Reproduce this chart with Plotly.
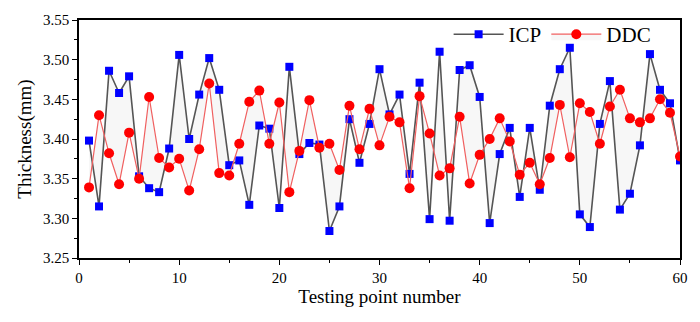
import plotly.graph_objects as go

points = list(range(1, 61))
icp = [3.398, 3.315, 3.486, 3.458, 3.479, 3.353, 3.338, 3.333, 3.388, 3.506,
       3.400, 3.456, 3.502, 3.462, 3.367, 3.373, 3.317, 3.417, 3.413, 3.313,
       3.491, 3.381, 3.395, 3.393, 3.284, 3.315, 3.425, 3.370, 3.419, 3.488,
       3.431, 3.456, 3.356, 3.471, 3.299, 3.510, 3.297, 3.487, 3.493, 3.453,
       3.294, 3.381, 3.414, 3.327, 3.414, 3.336, 3.442, 3.488, 3.515, 3.305,
       3.289, 3.419, 3.473, 3.311, 3.331, 3.392, 3.507, 3.462, 3.445, 3.373]
ddc = [3.339, 3.430, 3.382, 3.343, 3.408, 3.350, 3.453, 3.376, 3.364, 3.375,
       3.335, 3.387, 3.470, 3.357, 3.354, 3.394, 3.447, 3.461, 3.394, 3.446,
       3.333, 3.385, 3.449, 3.389, 3.394, 3.361, 3.442, 3.387, 3.438, 3.392,
       3.428, 3.421, 3.338, 3.454, 3.407, 3.354, 3.363, 3.428, 3.344, 3.380,
       3.400, 3.426, 3.397, 3.355, 3.370, 3.343, 3.376, 3.443, 3.377, 3.445,
       3.434, 3.394, 3.441, 3.462, 3.426, 3.421, 3.426, 3.450, 3.433, 3.378]

font = "Liberation Serif, Times New Roman, serif"

fig = go.Figure()
fig.add_trace(go.Scatter(
    x=points, y=icp, name="ICP", mode="lines+markers",
    line=dict(color="#555555", width=1.6),
    marker=dict(symbol="square", size=8, color="#0000ff"),
))
fig.add_trace(go.Scatter(
    x=points, y=ddc, name="DDC", mode="lines+markers",
    line=dict(color="#f06060", width=1.2),
    marker=dict(symbol="circle", size=10, color="#ff0000"),
    fill="tonexty", fillcolor="rgba(200,200,200,0.15)",
))

axis_common = dict(
    showline=True, linecolor="black", linewidth=1.5, mirror=True,
    ticks="outside", ticklen=5, tickwidth=1.2, tickcolor="black",
    showgrid=False, zeroline=False,
    tickfont=dict(family=font, size=15, color="black"),
)
fig.update_xaxes(
    range=[0, 60], tick0=0, dtick=10,
    minor=dict(dtick=5, ticks="outside", ticklen=3, tickcolor="black"),
    title=dict(text="Testing point number", font=dict(family=font, size=19, color="black"), standoff=4),
    **axis_common,
)
fig.update_yaxes(
    range=[3.25, 3.55], tick0=3.25, dtick=0.05, tickformat=".2f",
    minor=dict(dtick=0.025, ticks="outside", ticklen=3, tickcolor="black"),
    title=dict(text="Thickness(mm)", font=dict(family=font, size=19, color="black"), standoff=6),
    **axis_common,
)
fig.update_layout(
    width=700, height=322,
    margin=dict(l=79, r=12, t=12, b=64),
    plot_bgcolor="white", paper_bgcolor="white",
    legend=dict(
        orientation="h", x=0.615, y=1.025, xanchor="left", yanchor="top",
        traceorder="normal",
        bgcolor="rgba(0,0,0,0)", font=dict(family=font, size=21, color="black"),
        itemwidth=50,
    ),
)
fig.write_html("out.html")
